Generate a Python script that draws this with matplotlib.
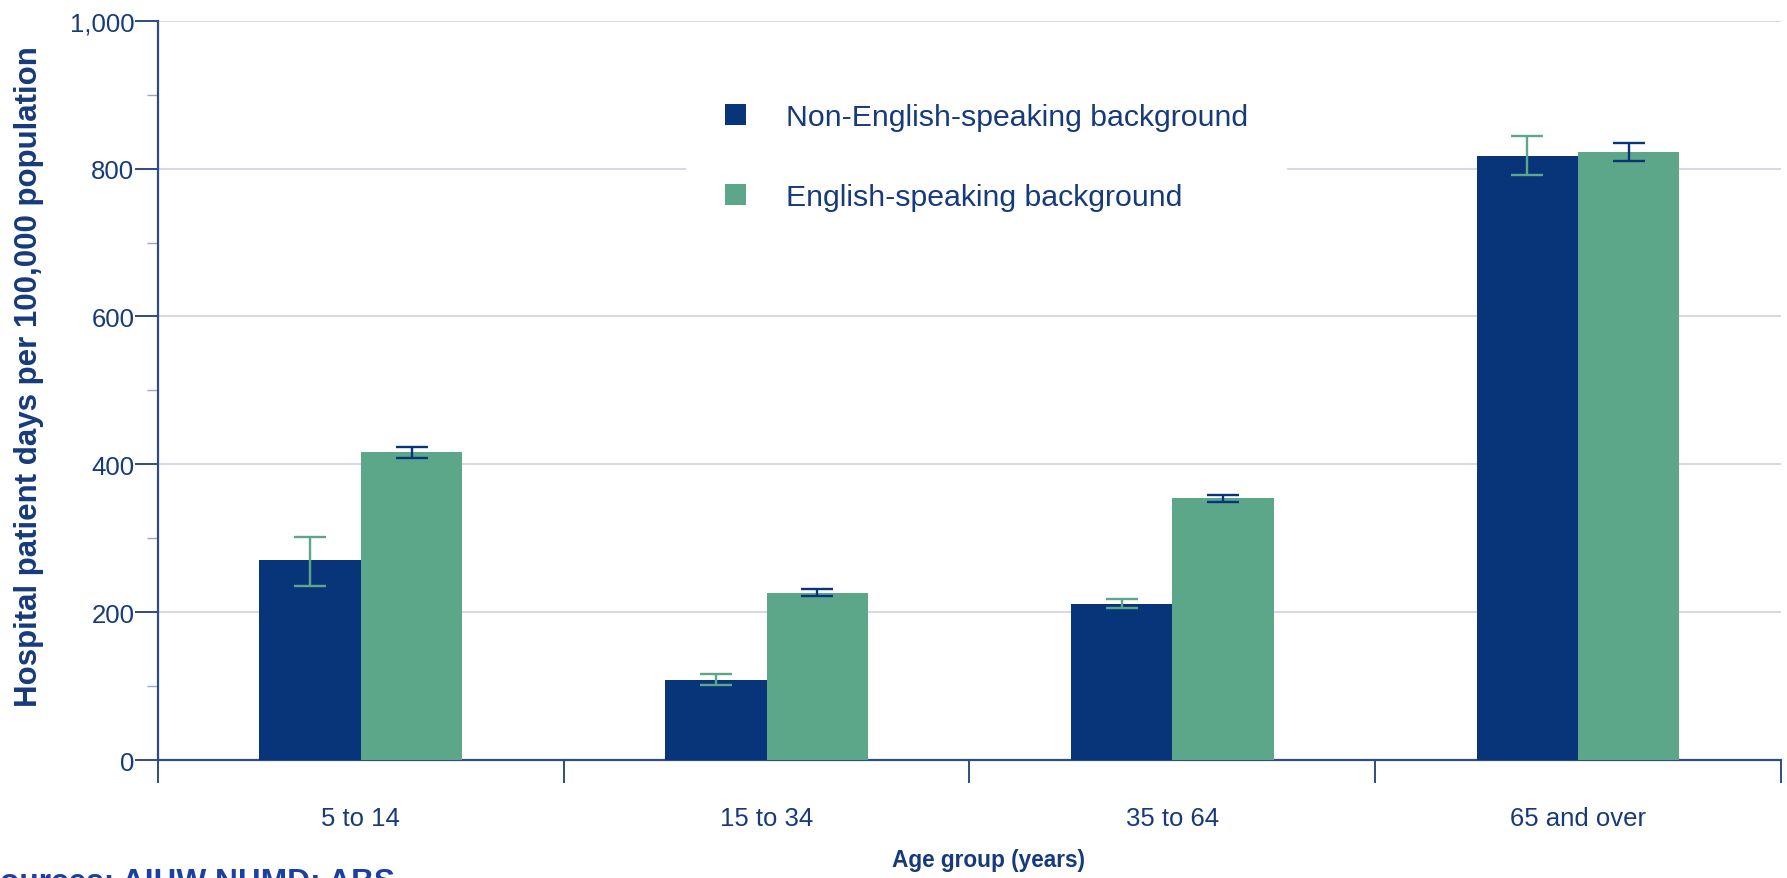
import numpy as np
import matplotlib
matplotlib.use("Agg")
import matplotlib.pyplot as plt
from matplotlib.patches import Patch
from matplotlib.ticker import MultipleLocator, FixedLocator, FuncFormatter

plt.rcParams['font.family'] = ['Liberation Sans', 'DejaVu Sans']

# === Data: hospital patient days per 100,000 population ===
age_groups = ['5 to 14', '15 to 34', '35 to 64', '65 and over']
nesb_rate = [270, 108, 211, 817]
nesb_low = [236, 101, 205, 791]
nesb_high = [302, 116, 218, 844]
esb_rate = [416, 226, 354, 822]
esb_low = [409, 222, 349, 810]
esb_high = [423, 231, 359, 835]

navy = '#08357a'
green = '#5ca68a'
text_col = '#163a7c'
axis_col = '#2d4d86'
grid_col = '#d4d7ea'

fig = plt.figure(figsize=(17.87, 8.79), dpi=100)
ax = fig.add_axes([0.0884, 0.1342, 0.9082, 0.8411])

x = np.arange(len(age_groups))
w = 0.25

nesb_err = [np.subtract(nesb_rate, nesb_low), np.subtract(nesb_high, nesb_rate)]
esb_err = [np.subtract(esb_rate, esb_low), np.subtract(esb_high, esb_rate)]

ax.bar(x - w / 2, nesb_rate, width=w, color=navy, zorder=3)
ax.bar(x + w / 2, esb_rate, width=w, color=green, zorder=3)
# error bars take the other series' colour
ax.errorbar(x - w / 2, nesb_rate, yerr=nesb_err, fmt='none', ecolor=green,
            elinewidth=1.7, capsize=11.5, capthick=1.7, zorder=4)
ax.errorbar(x + w / 2, esb_rate, yerr=esb_err, fmt='none', ecolor=navy,
            elinewidth=1.7, capsize=11.5, capthick=1.7, zorder=4)

# axes and ticks
ax.set_xlim(-0.5, len(age_groups) - 0.5)
ax.set_ylim(0, 1000)
ax.yaxis.set_major_locator(MultipleLocator(200))
ax.yaxis.set_minor_locator(MultipleLocator(100))
ax.yaxis.set_major_formatter(FuncFormatter(lambda v, p: f'{int(v):,}'))
ax.grid(axis='y', color=grid_col, linewidth=1.4, zorder=0)

ax.xaxis.set_major_locator(FixedLocator(np.arange(-0.5, len(age_groups), 1.0)))
ax.xaxis.set_major_formatter(FuncFormatter(lambda v, p: ''))
ax.xaxis.set_minor_locator(FixedLocator(x))
ax.set_xticklabels(age_groups, minor=True)

ax.tick_params(axis='x', which='major', length=16.5, width=1.4, color=axis_col)
ax.tick_params(axis='x', which='minor', length=0, pad=33, labelsize=18.5,
               labelcolor=text_col)
ax.tick_params(axis='y', which='major', length=16.5, width=1.4, color=axis_col,
               pad=0.5, labelsize=18.5, labelcolor=text_col)
ax.tick_params(axis='y', which='minor', length=8, width=1.0, color='#9aa6c4')

for side in ['top', 'right']:
    ax.spines[side].set_visible(False)
for side in ['left', 'bottom']:
    ax.spines[side].set_color(axis_col)
    ax.spines[side].set_linewidth(1.6)

fig.text(0.0165, 0.572, 'Hospital patient days per 100,000 population',
         fontsize=22.5, fontweight='bold', color=text_col, rotation=90,
         ha='center', va='center')

# legend with a plain white box over the gridline
handles = [Patch(facecolor=navy, label='Non-English-speaking background'),
           Patch(facecolor=green, label='English-speaking background')]
leg = ax.legend(handles=handles, loc='upper left', bbox_to_anchor=(0.3253, 0.942),
                borderaxespad=0, fontsize=21.8, frameon=True, fancybox=False,
                facecolor='white', edgecolor='none', framealpha=1,
                handlelength=0.7, handleheight=0.7, handletextpad=1.3,
                labelspacing=1.72, borderpad=1.3)
for t in leg.get_texts():
    t.set_color(text_col)
leg.set_zorder(5)

fig.text(0.553, 0.0137, 'Age group (years)', fontsize=16.3, fontweight='bold',
         color=text_col, ha='center', va='baseline')
fig.text(-0.0118, -0.0137, 'Sources: AIHW NHMD; ABS', fontsize=22.8,
         fontweight='bold', color='#1b3fa3', ha='left', va='baseline')

fig.savefig('out.png', dpi=100)
